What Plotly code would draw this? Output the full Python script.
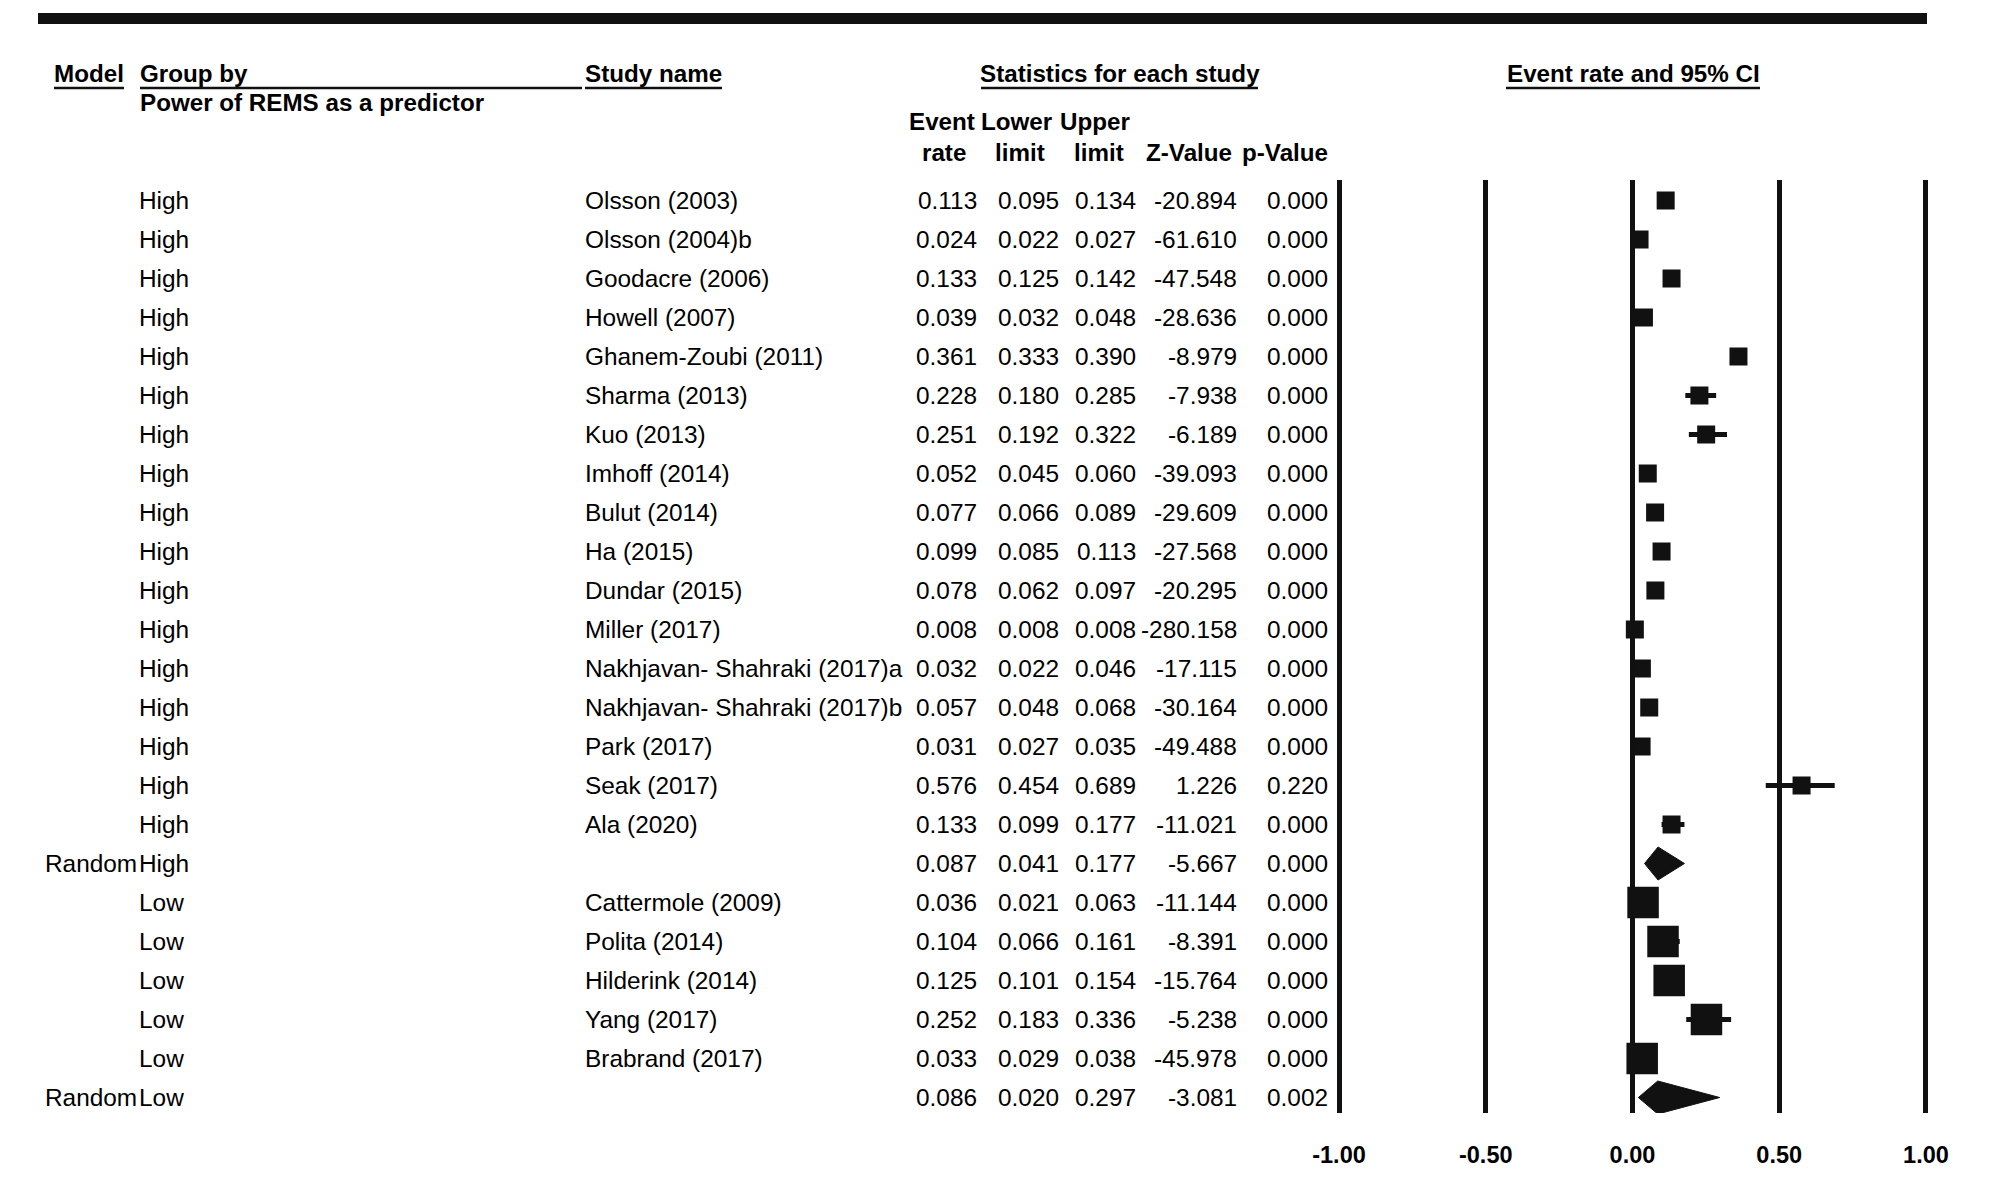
import plotly.graph_objects as go

# ---------------- data ----------------
model = [""] * 17 + ["Random"] + [""] * 5 + ["Random"]
group = ["High"] * 18 + ["Low"] * 6
study = [
    "Olsson (2003)", "Olsson (2004)b", "Goodacre (2006)", "Howell (2007)",
    "Ghanem-Zoubi (2011)", "Sharma (2013)", "Kuo (2013)", "Imhoff (2014)",
    "Bulut (2014)", "Ha (2015)", "Dundar (2015)", "Miller (2017)",
    "Nakhjavan- Shahraki (2017)a", "Nakhjavan- Shahraki (2017)b", "Park (2017)",
    "Seak (2017)", "Ala (2020)", "",
    "Cattermole (2009)", "Polita (2014)", "Hilderink (2014)", "Yang (2017)",
    "Brabrand (2017)", "",
]
rate = [0.113, 0.024, 0.133, 0.039, 0.361, 0.228, 0.251, 0.052, 0.077, 0.099,
        0.078, 0.008, 0.032, 0.057, 0.031, 0.576, 0.133, 0.087,
        0.036, 0.104, 0.125, 0.252, 0.033, 0.086]
lower = [0.095, 0.022, 0.125, 0.032, 0.333, 0.180, 0.192, 0.045, 0.066, 0.085,
         0.062, 0.008, 0.022, 0.048, 0.027, 0.454, 0.099, 0.041,
         0.021, 0.066, 0.101, 0.183, 0.029, 0.020]
upper = [0.134, 0.027, 0.142, 0.048, 0.390, 0.285, 0.322, 0.060, 0.089, 0.113,
         0.097, 0.008, 0.046, 0.068, 0.035, 0.689, 0.177, 0.177,
         0.063, 0.161, 0.154, 0.336, 0.038, 0.297]
zval = [-20.894, -61.610, -47.548, -28.636, -8.979, -7.938, -6.189, -39.093,
        -29.609, -27.568, -20.295, -280.158, -17.115, -30.164, -49.488, 1.226,
        -11.021, -5.667,
        -11.144, -8.391, -15.764, -5.238, -45.978, -3.081]
pval = [0.000] * 15 + [0.220, 0.000, 0.000] + [0.000] * 5 + [0.002]
tick_vals = [-1.0, -0.5, 0.0, 0.5, 1.0]
tick_text = ["-1.00", "-0.50", "0.00", "0.50", "1.00"]

# ---------------- style / layout constants ----------------
W, H = 2000, 1178
FONT = "Liberation Sans, Arial, sans-serif"
FS = 24.4
FSB = 24.2
ROW0, ROWSTEP = 200.5, 39.0
PLOT_TOP, PLOT_BOT = 180, 1113
X0PX, PXU = 1632.5, 293.5          # pixel of 0 and pixels per unit on forest axis
XR = 1.05
SQ_SIZE = {"High": 18, "Low": 31.5}
DIAMOND_HALF = 16.5 / ROWSTEP

def xp(px):
    return px / W

def yp(py):
    return 1 - py / H

rows = list(range(len(study)))
y_top = (PLOT_TOP - ROW0) / ROWSTEP
y_bot = (PLOT_BOT - ROW0) / ROWSTEP

fig = go.Figure()

# study squares with CI whiskers
for g in ["High", "Low"]:
    idx = [i for i in rows if group[i] == g and model[i] != "Random"]
    fig.add_trace(go.Scatter(
        x=[rate[i] for i in idx], y=[i for i in idx], mode="markers",
        marker=dict(symbol="square", size=SQ_SIZE[g], color="#111111"),
        error_x=dict(type="data", symmetric=False,
                     array=[upper[i] - rate[i] for i in idx],
                     arrayminus=[rate[i] - lower[i] for i in idx],
                     thickness=5, width=0, color="#111111"),
        hoverinfo="skip", showlegend=False, xaxis="x", yaxis="y"))

# summary diamonds
for i in rows:
    if model[i] == "Random":
        fig.add_trace(go.Scatter(
            x=[lower[i], rate[i], upper[i], rate[i], lower[i]],
            y=[i, i - DIAMOND_HALF, i, i + DIAMOND_HALF, i],
            mode="lines", fill="toself", fillcolor="#111111",
            line=dict(color="#111111", width=1),
            hoverinfo="skip", showlegend=False, xaxis="x", yaxis="y"))

ann = []

def txt(x, y, s, anchor="left", bold=False, yref="y"):
    ann.append(dict(
        x=xp(x), xref="paper", y=y, yref=yref, text=s, showarrow=False,
        xanchor=anchor, yanchor="middle", borderpad=0, borderwidth=0,
        font=dict(family=FONT, size=FSB if bold else FS, color="black",
                  weight="bold" if bold else "normal")))

# table cells
num_cols = [(rate, 977), (lower, 1059), (upper, 1136), (zval, 1237), (pval, 1328)]
for i in rows:
    if model[i]:
        txt(45, i, model[i])
    txt(139, i, group[i])
    if study[i]:
        txt(585, i, study[i])
    for arr, xr in num_cols:
        txt(xr, i, f"{arr[i]:.3f}", anchor="right")

# headers
hy1, hy2, hy3, hy4 = 73.5, 102, 122, 152
txt(54, yp(hy1), "Model", bold=True, yref="paper")
txt(140, yp(hy1), "Group by", bold=True, yref="paper")
txt(140, yp(hy2), "Power of REMS as a predictor", bold=True, yref="paper")
txt(585, yp(hy1), "Study name", bold=True, yref="paper")
txt(1119.5, yp(hy1), "Statistics for each study", anchor="center", bold=True, yref="paper")
txt(1633, yp(hy1), "Event rate and 95% CI", anchor="center", bold=True, yref="paper")
for s, cx in [("Event", 942), ("Lower", 1017), ("Upper", 1095)]:
    txt(cx, yp(hy3), s, anchor="center", bold=True, yref="paper")
for s, cx in [("rate", 944), ("limit", 1020), ("limit", 1098.5),
              ("Z-Value", 1189), ("p-Value", 1285)]:
    txt(cx, yp(hy4), s, anchor="center", bold=True, yref="paper")

shapes = [dict(type="rect", xref="paper", yref="paper",
               x0=xp(38), x1=xp(1927), y0=yp(24), y1=yp(13),
               fillcolor="#111111", line=dict(width=0))]
for a, b in [(54, 124), (140, 582), (585, 722), (981, 1258), (1506, 1760)]:
    shapes.append(dict(type="line", xref="paper", yref="paper",
                       x0=xp(a), x1=xp(b), y0=yp(88), y1=yp(88),
                       line=dict(color="#111111", width=2.5)))

fig.update_layout(
    template="none",
    width=W, height=H, autosize=False,
    margin=dict(l=0, r=0, t=0, b=0, pad=0, autoexpand=False),
    paper_bgcolor="white", plot_bgcolor="white",
    showlegend=False,
    annotations=ann, shapes=shapes,
    xaxis=dict(
        domain=[xp(X0PX - XR * PXU), xp(X0PX + XR * PXU)],
        range=[-XR, XR], tickvals=tick_vals, ticktext=tick_text,
        showgrid=True, gridcolor="#111111", gridwidth=4.5,
        zeroline=False, showline=False, ticks="", automargin=False,
        tickfont=dict(family=FONT, size=23.5, color="black", weight="bold"),
        ticklabelstandoff=25, fixedrange=True),
    yaxis=dict(
        domain=[yp(PLOT_BOT), yp(PLOT_TOP)],
        range=[y_bot, y_top], showgrid=False, zeroline=False, automargin=False,
        showline=False, showticklabels=False, ticks="", fixedrange=True),
)

fig.write_html("out.html", config={"displayModeBar": False},
               post_script="document.body.style.margin='0';")
